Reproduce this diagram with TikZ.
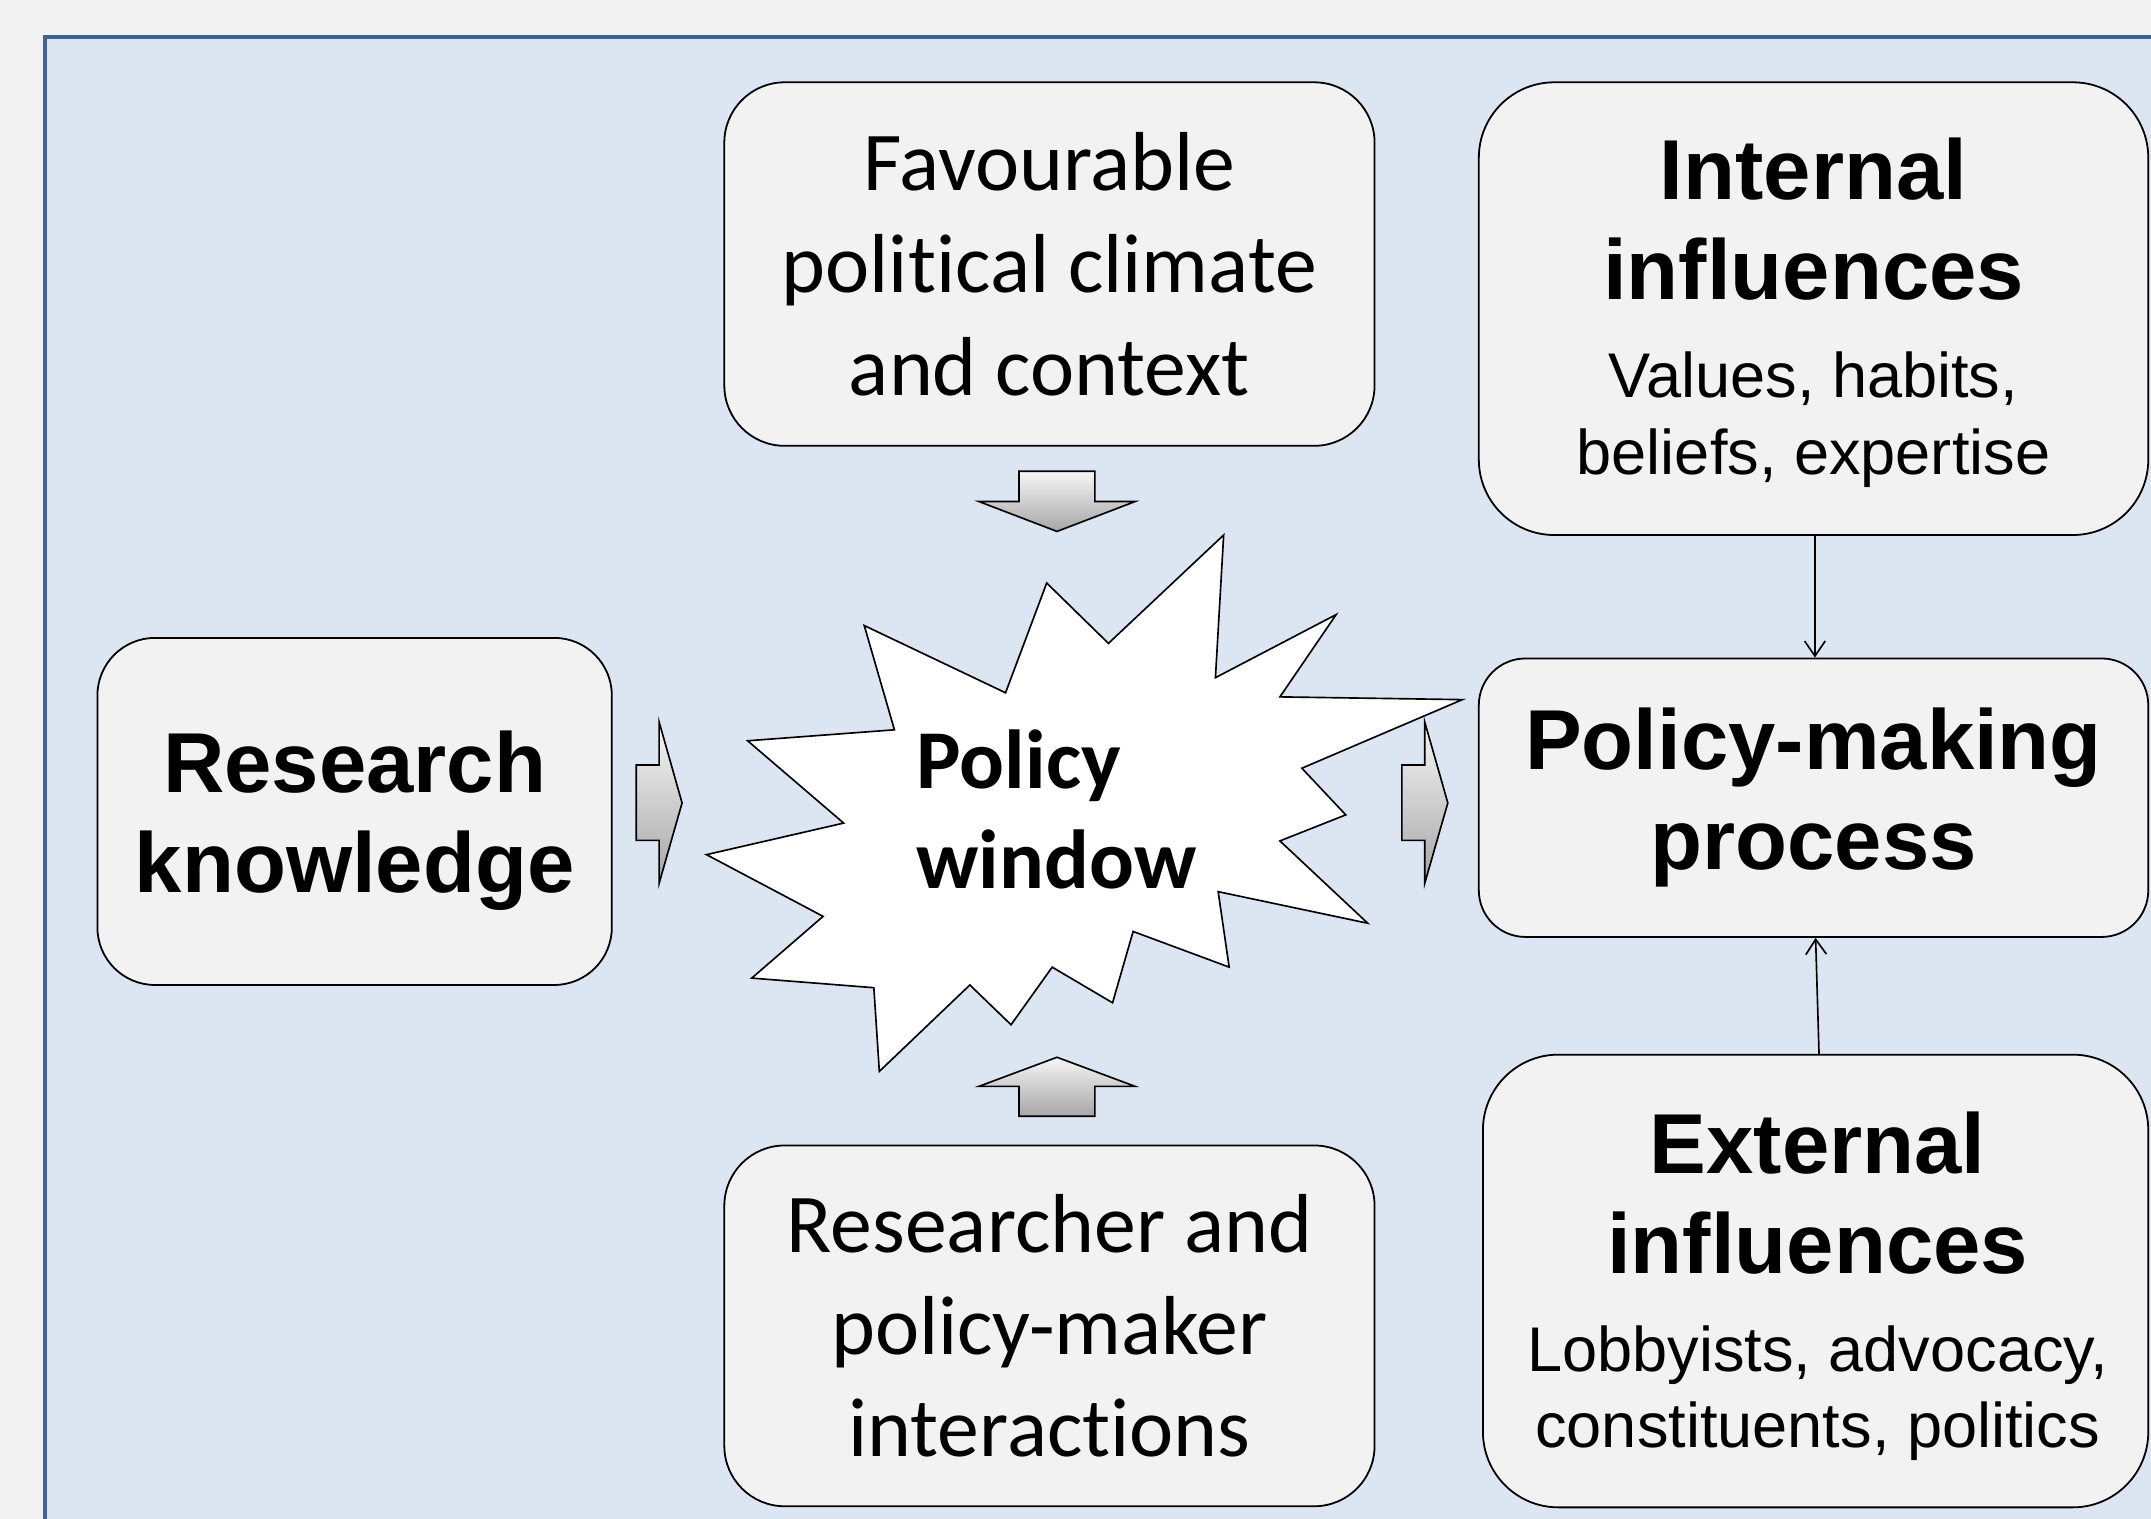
\documentclass[tikz,border=0pt]{standalone}
\usepackage{fontspec}
\setmainfont{Carlito}[Ligatures=NoCommon]
\newfontfamily\arialf{Liberation Sans}
\usetikzlibrary{arrows.meta}
\definecolor{bgc}{HTML}{F2F2F2}
\definecolor{panelc}{HTML}{DCE6F2}
\definecolor{framec}{HTML}{3F6494}
\definecolor{boxc}{HTML}{F2F2F2}
\definecolor{arrlight}{HTML}{F6F6F6}
\definecolor{arrdark}{HTML}{A6A6A6}
\newcommand{\fixsp}{\spaceskip=\fontdimen2\font\xspaceskip=\fontdimen2\font\relax}
\newcommand{\calbody}{\fontsize{61}{74.5}\selectfont\fixsp}
\newcommand{\calbold}{\fontsize{61}{73}\selectfont\bfseries\fixsp}
\newcommand{\arhead}{\arialf\bfseries\fontsize{62}{73}\selectfont\fixsp}
\newcommand{\arsub}{\arialf\fontsize{46}{56}\selectfont\fixsp}
\begin{document}
\begin{tikzpicture}[x=1pt,y=-1pt,
  box/.style={draw=black, line width=1.3pt, fill=boxc, inner sep=0pt, align=center},
  boxtext/.style={inner sep=0pt, align=center},
  conn/.style={draw=black, line width=1.2pt, -{Straight Barb[length=11pt,width=15pt,line width=1.2pt]}},
  blockarrow/.style={draw=black, line width=1.2pt, top color=arrlight, bottom color=arrdark, line join=miter},
  burst/.style={draw=black, line width=1.2pt, fill=white, line join=miter}]
\useasboundingbox (0,0) rectangle (1568,1107);
\clip (0,0) rectangle (1568,1107);
\fill[bgc] (0,0) rectangle (1568,1107);
\draw[framec, line width=3.2pt, fill=panelc] (33,27) rectangle (1640,1160);

% boxes
\node[box, minimum width=375pt, minimum height=253pt, rounded corners=42pt] (rk) at (258.5,591.5) {};
\node[boxtext, font=\arhead, text width=375pt] (rkt) at ([yshift=-7pt]rk.center)
  {\fixsp Research\\knowledge};
\node[box, font=\calbody, text width=474pt, minimum height=265pt, rounded corners=44pt] (fav) at (765,192.5)
  {\fixsp Favourable\\political climate\\and context};
\node[box, font=\calbody, text width=474pt, minimum height=263pt, rounded corners=44pt] (rpi) at (765,966.5)
  {\fixsp Researcher and\\policy-maker\\interactions};
\node[box, minimum width=488pt, minimum height=330pt, rounded corners=55pt] (intl) at (1322,225) {};
\node[boxtext, text width=488pt] (intlt) at ([yshift=-3pt]intl.center)
  {{\arhead Internal\\influences\par}{\arsub\vspace{15pt}Values, habits,\\beliefs, expertise\par}};
\node[box, font=\arhead, text width=488pt, minimum height=203pt, rounded corners=34pt] (pmp) at (1322,581.5)
  {\fixsp Policy-making\\process};
\node[box, minimum width=485pt, minimum height=330pt, rounded corners=55pt] (extl) at (1323.5,933.8) {};
\node[boxtext, text width=485pt] (extlt) at ([xshift=1.5pt,yshift=-4pt]extl.center)
  {{\arhead External\\influences\par}{\arsub\vspace{15pt}Lobbyists, advocacy,\\constituents, politics\par}};

% policy window burst
\draw[burst] (892,390) -- (886,494) -- (974,448) -- (933,508) -- (1066,510) -- (949,560)
  -- (981,594) -- (933,613) -- (997,673) -- (888,650) -- (896,705) -- (826,679)
  -- (811,731) -- (767,705) -- (737,747) -- (707,718) -- (641,781) -- (637,720)
  -- (548,713) -- (600,668) -- (515,623) -- (615,600) -- (545,540) -- (652,532)
  -- (630,456) -- (733,505) -- (763,425) -- (808,469) -- cycle;
\node[font=\calbold, align=left, anchor=base west, inner sep=0pt] (pw) at (668,647.5) {Policy\\window};

% block arrows
\path[blockarrow] (742.8,343.5) -- (798.1,343.5) -- (798.1,365.6) -- (827.4,365.6)
  -- (770.5,387.4) -- (713.6,365.6) -- (742.8,365.6) -- cycle;
\path[blockarrow] (770.5,770.7) -- (827.4,791.9) -- (798.1,791.9) -- (798.1,813.7)
  -- (742.8,813.7) -- (742.8,791.9) -- (713.6,791.9) -- cycle;
\path[blockarrow] (463.8,557.6) -- (480.5,557.6) -- (480.5,526.4) -- (497.2,585.3)
  -- (480.5,643.8) -- (480.5,612.6) -- (463.8,612.6) -- cycle;
\path[blockarrow] (1021.9,557.6) -- (1038.6,557.6) -- (1038.6,526.4) -- (1055.4,585.3)
  -- (1038.6,643.8) -- (1038.6,612.6) -- (1021.9,612.6) -- cycle;

% connectors
\draw[conn] ([xshift=1pt]intl.south) -- ([xshift=1pt]pmp.south |- pmp.north);
\draw[conn] ([xshift=2.5pt]extl.north) -- ([xshift=1.5pt]pmp.south);
\end{tikzpicture}
\end{document}
